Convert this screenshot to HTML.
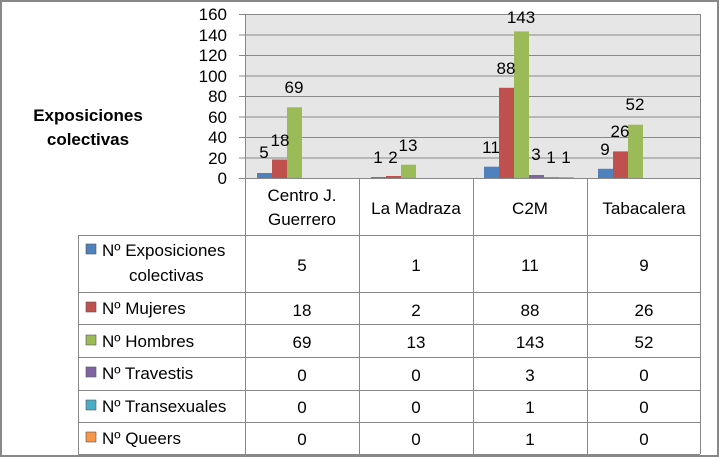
<!DOCTYPE html><html><head><meta charset="utf-8"><style>body{margin:0;background:#fff}svg{display:block;font-family:"Liberation Sans",sans-serif}</style></head><body>
<svg width="719" height="457" viewBox="0 0 719 457">
<rect x="1" y="1" width="717" height="455" fill="#fff" stroke="#888" stroke-width="2"/>
<rect x="245" y="14" width="455" height="164" fill="#e6e6e6"/>
<g stroke="#888" stroke-width="1">
<line x1="239" y1="14.5" x2="700" y2="14.5"/><line x1="239" y1="35" x2="700" y2="35"/><line x1="239" y1="55.5" x2="700" y2="55.5"/><line x1="239" y1="76" x2="700" y2="76"/><line x1="239" y1="96.5" x2="700" y2="96.5"/><line x1="239" y1="117" x2="700" y2="117"/><line x1="239" y1="137.5" x2="700" y2="137.5"/><line x1="239" y1="158" x2="700" y2="158"/><line x1="239" y1="178.5" x2="700" y2="178.5"/>
<line x1="245.5" y1="14" x2="245.5" y2="454"/>
</g>
<g font-size="17" fill="#000" text-anchor="end">
<text x="227" y="20">160</text><text x="227" y="41">140</text><text x="227" y="61">120</text><text x="227" y="82">100</text><text x="227" y="102">80</text><text x="227" y="123">60</text><text x="227" y="143">40</text><text x="227" y="164">20</text><text x="227" y="184">0</text>
</g>
<g font-size="17" font-weight="bold" text-anchor="middle"><text x="88" y="121">Exposiciones</text><text x="88" y="145">colectivas</text></g>
<g>
<rect x="257" y="173" width="15" height="5" fill="#4f81bd"/><rect x="272" y="159.5" width="15" height="18.5" fill="#c0504d"/><rect x="287" y="107.3" width="15" height="70.7" fill="#9bbb59"/>
<rect x="371" y="177" width="15" height="1" fill="#4f81bd"/><rect x="386" y="176" width="15" height="2" fill="#c0504d"/><rect x="401" y="164.7" width="15" height="13.3" fill="#9bbb59"/>
<rect x="484" y="166.7" width="15" height="11.3" fill="#4f81bd"/><rect x="499" y="87.8" width="15" height="90.2" fill="#c0504d"/><rect x="514" y="31.4" width="15" height="146.6" fill="#9bbb59"/><rect x="529" y="175" width="15" height="3" fill="#8064a2"/><rect x="544" y="177" width="15" height="1" fill="#4bacc6"/><rect x="559" y="177" width="15" height="1" fill="#f79646"/>
<rect x="598" y="168.8" width="15" height="9.2" fill="#4f81bd"/><rect x="613" y="151.4" width="15" height="26.6" fill="#c0504d"/><rect x="628" y="124.7" width="15" height="53.3" fill="#9bbb59"/>
</g>
<g font-size="17" text-anchor="middle">
<text x="264" y="158">5</text><text x="280" y="146">18</text><text x="294" y="93">69</text>
<text x="378" y="163">1</text><text x="393" y="163">2</text><text x="408" y="151">13</text>
<text x="491" y="153">11</text><text x="506" y="74">88</text><text x="521" y="23">143</text><text x="536" y="160">3</text><text x="551" y="163">1</text><text x="566" y="163">1</text>
<text x="605" y="155">9</text><text x="620" y="137">26</text><text x="635" y="110">52</text>
</g>
<g stroke="#888" stroke-width="1" fill="none">
<line x1="359.5" y1="178" x2="359.5" y2="454"/><line x1="473.5" y1="178" x2="473.5" y2="454"/><line x1="587.5" y1="178" x2="587.5" y2="454"/><line x1="700.5" y1="14" x2="700.5" y2="454"/>
<line x1="78.5" y1="235" x2="78.5" y2="454"/>
<line x1="78" y1="235.5" x2="700" y2="235.5"/><line x1="78" y1="292.5" x2="700" y2="292.5"/><line x1="78" y1="324.5" x2="700" y2="324.5"/><line x1="78" y1="357.5" x2="700" y2="357.5"/><line x1="78" y1="390.5" x2="700" y2="390.5"/><line x1="78" y1="422.5" x2="700" y2="422.5"/><line x1="78" y1="454.5" x2="700" y2="454.5"/>
</g>
<g font-size="17" text-anchor="middle">
<text x="302" y="201">Centro J.</text><text x="302" y="225">Guerrero</text><text x="416" y="214">La Madraza</text><text x="530" y="214">C2M</text><text x="644" y="214">Tabacalera</text>
</g>
<g font-size="17" text-anchor="middle">
<text x="302" y="271">5</text><text x="416" y="271">1</text><text x="530" y="271">11</text><text x="644" y="271">9</text>
<text x="302" y="316">18</text><text x="416" y="316">2</text><text x="530" y="316">88</text><text x="644" y="316">26</text>
<text x="302" y="348">69</text><text x="416" y="348">13</text><text x="530" y="348">143</text><text x="644" y="348">52</text>
<text x="302" y="381">0</text><text x="416" y="381">0</text><text x="530" y="381">3</text><text x="644" y="381">0</text>
<text x="302" y="413">0</text><text x="416" y="413">0</text><text x="530" y="413">1</text><text x="644" y="413">0</text>
<text x="302" y="445">0</text><text x="416" y="445">0</text><text x="530" y="445">1</text><text x="644" y="445">0</text>
</g>
<g stroke="#555" stroke-width="0.6">
<rect x="86" y="244" width="10" height="10" fill="#4f81bd"/><rect x="86" y="302" width="10" height="10" fill="#c0504d"/><rect x="86" y="335" width="10" height="10" fill="#9bbb59"/><rect x="86" y="367" width="10" height="10" fill="#8064a2"/><rect x="86" y="400" width="10" height="10" fill="#4bacc6"/><rect x="86" y="432" width="10" height="10" fill="#f79646"/>
</g>
<g font-size="17">
<text x="102" y="256">Nº Exposiciones</text><text x="129" y="281">colectivas</text>
<text x="102" y="314">Nº Mujeres</text><text x="102" y="347">Nº Hombres</text><text x="102" y="379">Nº Travestis</text><text x="102" y="412">Nº Transexuales</text><text x="102" y="444">Nº Queers</text>
</g>
</svg>
</body></html>
